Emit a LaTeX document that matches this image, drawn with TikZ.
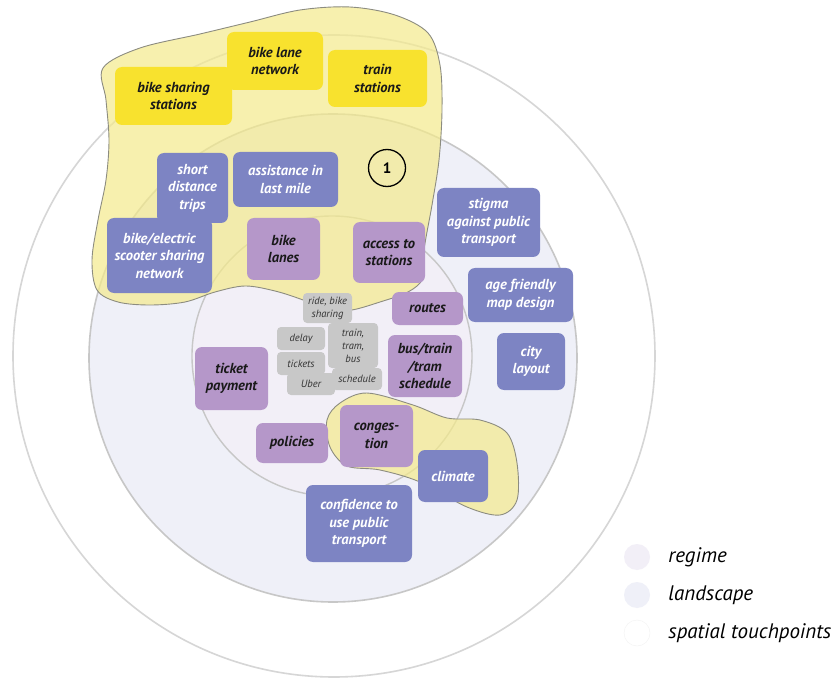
\documentclass[tikz,border=0pt]{standalone}
\usepackage{fontspec}
\setmainfont{PT Sans}
\usepackage{tikz}
\usetikzlibrary{positioning}
\definecolor{yelbox}{HTML}{F8E22E}
\definecolor{blobfill}{HTML}{F4EA8C}
\definecolor{blobline}{HTML}{8C8C80}
\definecolor{landblue}{HTML}{7D84C3}
\definecolor{regpurple}{HTML}{B597C9}
\definecolor{tpgray}{HTML}{C8C8C8}
\definecolor{landfill}{HTML}{EFF0F8}
\definecolor{regfill}{HTML}{F2EFF7}
\definecolor{ringline}{HTML}{D6D6D6}
\tikzset{
    spatial/.style={
           rectangle,
           rounded corners=7pt,
           fill=yelbox,
           inner sep=2pt,
           text=black!90,
           align=center,
           font=\fontsize{14.5}{17.5}\selectfont\bfseries\itshape,
           },
}
\tikzset{
    landscape/.style={
           rectangle,
           rounded corners=7pt,
           fill=landblue,
           inner sep=2pt,
           text=white,
           align=center,
           font=\fontsize{14.5}{17.5}\selectfont\bfseries\itshape,
           },
}
\tikzset{
    regime/.style={
           rectangle,
           rounded corners=7pt,
           fill=regpurple,
           inner sep=2pt,
           text=black!90,
           align=center,
           font=\fontsize{14.5}{17.5}\selectfont\bfseries\itshape,
           },
}
\tikzset{
    touch/.style={
           rectangle,
           rounded corners=4pt,
           fill=tpgray,
           inner sep=1pt,
           text=black!80,
           align=center,
           font=\fontsize{10.5}{13}\selectfont\itshape,
           },
}
\tikzset{
    blob/.style={
           fill=blobfill,
           fill opacity=0.7,
           draw=blobline,
           line width=0.9pt,
           },
}
\tikzset{
    legdot/.style={
           circle,
           minimum size=26pt,
           inner sep=0pt,
           },
}
\tikzset{
    legtext/.style={
           inner sep=0pt,
           anchor=west,
           font=\fontsize{21}{22}\selectfont\itshape,
           },
}

\begin{document}
\begin{tikzpicture}[x=1pt,y=-1pt]
\useasboundingbox[fill=white] (0,0) rectangle (833,679);
\draw[ringline,line width=1.6pt,fill=white] (334,356) circle [radius=321pt];
\draw[black!22,line width=1.6pt,fill=landfill] (333,358) circle [radius=244pt];
\draw[black!22,line width=1.4pt,fill=regfill] (332,356) circle [radius=140pt];
\draw[blob] plot[smooth cycle,tension=0.55] coordinates {(103,68) (140,48) (200,34) (250,22) (300,10) (350,7) (395,15) (428,33) (440,65) (442,110) (439,160) (432,205) (424,250) (423,278) (408,292) (380,302) (352,310) (328,311) (303,300) (275,291) (245,286) (215,292) (185,302) (150,305) (118,302) (97,290) (92,260) (98,220) (106,180) (109,140) (106,100)};
\draw[blob] plot[smooth cycle,tension=0.55] coordinates {(340,403) (367,393) (413,405) (447,418) (480,420) (507,433) (517,463) (517,500) (500,515) (467,507) (420,482) (380,470) (347,466) (330,447) (327,420)};
\node[spatial,minimum width=117pt,minimum height=58pt] (BSS) at (173.5,96) {bike sharing\\stations};
\node[spatial,minimum width=96pt,minimum height=58pt] (BLN) at (275,61) {bike lane\\network};
\node[spatial,minimum width=99pt,minimum height=57pt] (TS) at (377.5,78.5) {train\\stations};
\node[landscape,minimum width=71pt,minimum height=70pt] (SDT) at (192.5,188) {short\\distance\\trips};
\node[landscape,minimum width=105pt,minimum height=55pt] (ALM) at (285.5,179.5) {assistance in\\last mile};
\node[circle,draw=black,line width=1.3pt,minimum size=37pt,inner sep=0pt,font=\fontsize{15}{15}\selectfont\bfseries] (ONE) at (387,168) {1};
\node[landscape,minimum width=105pt,minimum height=75pt] (BES) at (159.5,255.5) {bike/electric\\scooter sharing\\network};
\node[regime,minimum width=73pt,minimum height=62pt] (BL) at (283.5,249) {bike\\lanes};
\node[regime,minimum width=72pt,minimum height=61pt] (ATS) at (389,252.5) {access to\\stations};
\node[landscape,minimum width=103pt,minimum height=69pt] (SPT) at (488.5,222.5) {stigma\\against public\\transport};
\node[landscape,minimum width=105pt,minimum height=54pt] (AFM) at (520.5,295) {age friendly\\map design};
\node[regime,minimum width=71pt,minimum height=33pt] (RT) at (427.5,308.5) {routes};
\node[landscape,minimum width=68pt,minimum height=57pt] (CL) at (531,361.5) {city\\layout};
\node[regime,minimum width=74pt,minimum height=62pt] (BTS) at (425,366) {bus/train\\/tram\\schedule};
\node[touch,minimum width=49pt,minimum height=30pt] (RBS) at (327.5,308) {ride, bike\\sharing};
\node[touch,minimum width=48pt,minimum height=23pt] (DL) at (301,338.5) {delay};
\node[touch,minimum width=50pt,minimum height=45pt] (TTB) at (353,345.5) {train,\\tram,\\bus};
\node[touch,minimum width=48pt,minimum height=23pt] (TK) at (301,363.5) {tickets};
\node[touch,minimum width=48pt,minimum height=22pt] (UB) at (311,384) {Uber};
\node[touch,minimum width=50pt,minimum height=22pt] (SC) at (357,379) {schedule};
\node[regime,minimum width=73pt,minimum height=63pt] (TP) at (231.5,378.5) {ticket\\payment};
\node[regime,minimum width=72pt,minimum height=40pt] (PO) at (292,443) {policies};
\node[regime,minimum width=73pt,minimum height=62pt] (CG) at (376.5,436) {conges-\\tion};
\node[landscape,minimum width=70pt,minimum height=52pt] (CM) at (453,476) {climate};
\node[landscape,minimum width=106pt,minimum height=77pt] (CPT) at (359,523.5) {confidence to\\use public\\transport};
\node[legdot,fill=regfill] (LR) at (637,557) {};
\node[legdot,fill=landfill] (LL) at (637,595) {};
\node[legdot,fill=white,draw=black!5] (LS) at (637,633) {};
\node[legtext,right=18pt of LR] (LRt) {regime};
\node[legtext,right=18pt of LL] (LLt) {landscape};
\node[legtext,right=18pt of LS] (LSt) {spatial touchpoints};
\end{tikzpicture}
\end{document}
